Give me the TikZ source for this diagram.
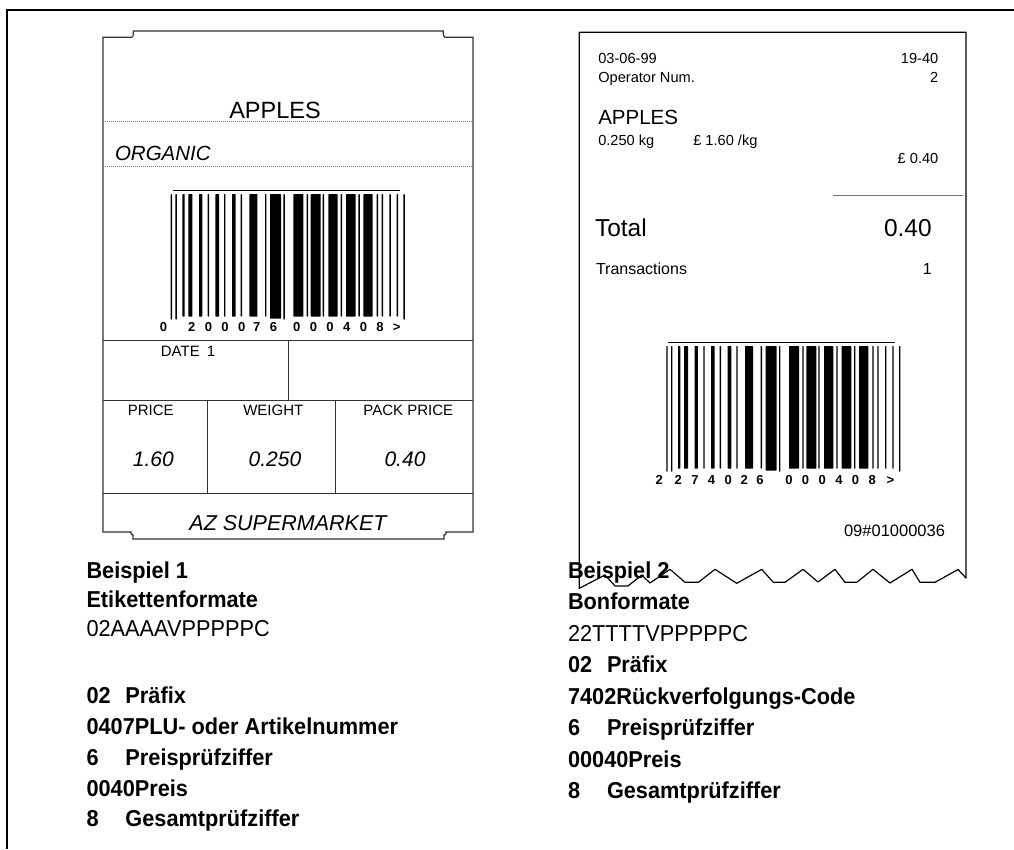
\documentclass[tikz,border=0pt]{standalone}
\usepackage{fontspec}
\setmainfont{Liberation Sans}
\newfontfamily\narrowfont[FakeStretch=0.945]{Liberation Sans}
\newcommand\fsz[1]{\fontsize{#1}{#1}\selectfont}
\newcommand\drawbarcode[2]{%
  \begin{scope}[shift={(#1,#2)}]
    \draw[line width=1.3pt] (0,0) -- (227,0);
    \foreach \bx/\bw/\bl in {-2/1.4/129, 2.7/1.4/129, 9.7/2.3/126, 15.7/4/126, 26.3/3.3/126, 35/1.4/126,
      42.7/3.6/126, 51.3/1.4/126, 59.3/3.7/126, 68/1.4/126, 76.7/8/126, 92.3/1.4/126, 97.3/11/128,
      110.7/1.4/129, 120.7/10/126, 134/1.4/126, 138/10/126, 150/1.4/126, 155.7/9.3/126, 168/1.4/126,
      173.3/9.7/126, 185.7/1.4/126, 190.7/9.3/126, 204/1.4/126, 209/1.4/126, 216.7/1.4/126,
      224/1.4/126, 230.7/1.4/129}
      \fill[rounded corners=0.6pt] (\bx,3.3) rectangle ++(\bw,\bl-3.3);
  \end{scope}}
\begin{document}
\begin{tikzpicture}[x=1pt,y=-1pt,
  every node/.style={inner sep=0pt, outer sep=0pt},
  frame/.style={line width=2pt, draw=black},
  outline/.style={line width=1.2pt, draw=black!80},
  grid/.style={line width=1pt, draw=black!80},
  dotline/.style={line width=0.6pt, draw=black!55, dash pattern=on 1.2pt off 0.8pt},
  lbltxt/.style={font=\fsz{15}, anchor=base},
  lblval/.style={font=\fsz{21}\itshape, anchor=base},
  digit/.style={font=\fsz{13}\bfseries, anchor=base},
  rct/.style={font=\fsz{14.6}},
  captxt/.style={font=\narrowfont\bfseries\fsz{23}, anchor=base west},
  capreg/.style={font=\narrowfont\fsz{23}, anchor=base west}]
\useasboundingbox (0,0) rectangle (1014,849);

% outer frame
\draw[frame] (7,849) -- (7,10) -- (1014,10);

% ---------------- label (Beispiel 1) ----------------
\draw[outline] (103,37.3) -- (131.5,37.3) to[out=0,in=-90] (133.3,33) -- (133.3,31) -- (443.3,31) -- (443.3,33)
  to[out=-90,in=180] (445,37.3) -- (473,37.3) -- (473,532) -- (446,532) to[out=0,in=-90] (444,535) -- (444,539)
  -- (133,539) -- (133,535) to[out=-90,in=180] (131,532) -- (103,532) -- cycle;
\draw[dotline] (103,121) -- (473,121);
\draw[dotline] (103,166) -- (473,166);
\draw[grid] (103,340) -- (473,340);
\draw[grid] (288.3,340) -- (288.3,400.7);
\draw[grid] (103,400.7) -- (473,400.7);
\draw[grid] (207.3,400.7) -- (207.3,493.3);
\draw[grid] (335.7,400.7) -- (335.7,493.3);
\draw[grid] (103,493.3) -- (473,493.3);

\node[font=\fsz{23.5}, anchor=base] (apples1) at (275,118) {APPLES};
\node[font=\fsz{20.5}\itshape, anchor=base west] (organic) at (115,160) {ORGANIC};

\drawbarcode{172.7}{190.7}
\foreach \dx/\dd [count=\i] in {-9.3/0, 19/2, 35.7/0, 52.3/0, 69/0, 84/7, 100.7/6,
   124/0, 140.7/0, 157.3/0, 174/4, 190.7/0, 207.3/8, 224/>}
  \node[digit] (ld\i) at (172.7+\dx,331.7) {\dd};

\node[lbltxt] (date) at (188,356.7) {DATE\hspace{7pt}1};
\node[lbltxt] (price) at (150.7,415.7) {PRICE};
\node[lbltxt] (weight) at (273.3,415.7) {WEIGHT};
\node[lbltxt] (packprice) at (408.3,415.7) {PACK PRICE};
\node[lblval] (pval) at (153.3,466.7) {1.60};
\node[lblval] (wval) at (275,466.7) {0.250};
\node[lblval] (ppval) at (405,466.7) {0.40};
\node[font=\fsz{21.5}\itshape, anchor=base] (az) at (288,530) {AZ SUPERMARKET};

% ---------------- receipt (Beispiel 2) ----------------
\draw[line width=1.2pt, line join=round] (579.3,588.3) -- (579.3,32.3) -- (966,32.3) -- (966,578)
  -- (958,569.5) -- (935,582.3) -- (920,582.3) -- (912,569.3) -- (890,583) -- (873,569.3)
  -- (856.7,582.3) -- (845,582.3) -- (835,569.3) -- (818,582) -- (803,569.3) -- (785,582.3)
  -- (773.3,582.3) -- (761.7,569.3) -- (736.7,583.3) -- (715,569.3) -- (698.3,582.3)
  -- (685,582.3) -- (670,569.3) -- (650,583) -- (641.7,575) -- (628,586) -- (615,586)
  -- (605,575) -- cycle;
\draw[dotline] (833.3,195) -- (962.7,195);

\node[rct, anchor=base west] (date2) at (598.3,63.3) {03-06-99};
\node[rct, anchor=base east] (time2) at (938.3,63.3) {19-40};
\node[rct, anchor=base west] (oper) at (598.3,82.7) {Operator Num.};
\node[rct, anchor=base east] (opnum) at (938.3,82.7) {2};
\node[font=\fsz{20.5}, anchor=base west] (apples2) at (598.3,124) {APPLES};
\node[rct, anchor=base west] (kg) at (598.3,145) {0.250 kg};
\node[rct, anchor=base west] (perkg) at (693.3,145) {£ 1.60 /kg};
\node[rct, anchor=base east] (amount) at (938.3,163.3) {£ 0.40};
\node[font=\fsz{24.5}, anchor=base west] (total) at (595,236) {Total};
\node[font=\fsz{24.5}, anchor=base east] (totalv) at (931.7,236) {0.40};
\node[font=\fsz{16}, anchor=base west] (trans) at (596,274) {Transactions};
\node[font=\fsz{16}, anchor=base east] (transv) at (931.7,274) {1};

\drawbarcode{668.3}{342.7}
\foreach \dx/\dd [count=\i] in {-9/2, 10/2, 26.7/7, 43.3/4, 60/0, 76/2, 91.7/6,
   120.7/0, 137.3/0, 154/0, 170.7/4, 187.3/0, 204/8, 222/>}
  \node[digit] (rd\i) at (668.3+\dx,484) {\dd};
\node[font=\fsz{16.5}, anchor=base east] (code) at (945,536) {09\#01000036};

% ---------------- captions ----------------
\node[captxt] (l1) at (86.5,578)   {Beispiel 1};
\node[captxt] (l2) at (86.5,607)   {Etikettenformate};
\node[capreg] (l3) at (86.5,636.5) {02AAAAVPPPPPC};
\node[captxt] (l5) at (86.5,703)   {\makebox[39pt][l]{02}Präfix};
\node[captxt] (l6) at (86.5,734)   {0407PLU- oder Artikelnummer};
\node[captxt] (l7) at (86.5,765)   {\makebox[39pt][l]{6}Preisprüfziffer};
\node[captxt] (l8) at (86.5,796)   {0040Preis};
\node[captxt] (l9) at (86.5,826.7) {\makebox[39pt][l]{8}Gesamtprüfziffer};

\node[captxt] (r1) at (568,578)   {Beispiel 2};
\node[captxt] (r2) at (568,609.5) {Bonformate};
\node[capreg] (r3) at (568,641)   {22TTTTVPPPPPC};
\node[captxt] (r4) at (568,672.5) {\makebox[39pt][l]{02}Präfix};
\node[captxt] (r5) at (568,704)   {7402Rückverfolgungs-Code};
\node[captxt] (r6) at (568,735.5) {\makebox[39pt][l]{6}Preisprüfziffer};
\node[captxt] (r7) at (568,767)   {00040Preis};
\node[captxt] (r8) at (568,798.5) {\makebox[39pt][l]{8}Gesamtprüfziffer};
\end{tikzpicture}
\end{document}
